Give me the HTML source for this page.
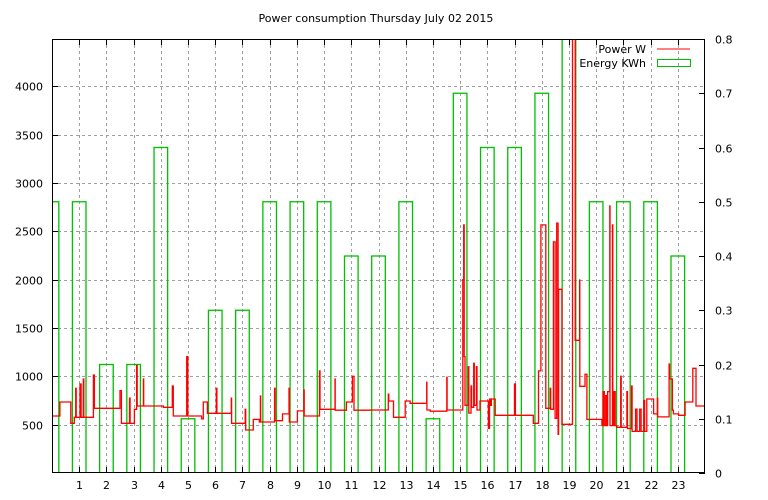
<!DOCTYPE html>
<html><head><meta charset="utf-8">
<style>
html,body{margin:0;padding:0;background:#fff;}
svg{display:block;font-family:"DejaVu Sans","Liberation Sans",sans-serif;}
</style></head>
<body>
<svg id="chart" width="768" height="500" viewBox="0 0 768 500" xmlns="http://www.w3.org/2000/svg">
<rect x="0" y="0" width="768" height="500" fill="#fff"/>
<text x="376" y="22" font-size="11" text-anchor="middle" fill="#000">Power consumption Thursday July 02 2015</text>
<g id="grid"></g>
<g id="plot" clip-path="url(#clip)"></g>
<defs><clipPath id="clip"><rect x="52" y="39" width="653" height="434"/></clipPath></defs>
<g id="axes"></g>
<g>
<text x="646" y="53" font-size="11" text-anchor="end">Power W</text>
<line x1="657" y1="49" x2="690" y2="49" stroke="#ff0000" stroke-width="1"/>
<text x="646" y="67" font-size="11" text-anchor="end">Energy KWh</text>
<rect x="657.5" y="59.5" width="33" height="7" fill="none" stroke="#00c000" stroke-width="1"/>
</g>
</svg>
<script>
const hourTicks=[1,2,3,4,5,6,7,8,9,10,11,12,13,14,15,16,17,18,19,20,21,22,23];
const wattTicks=[500,1000,1500,2000,2500,3000,3500,4000];
const kwhTicks=[0,0.1,0.2,0.3,0.4,0.5,0.6,0.7,0.8];
const energyHours=[0,1,2,3,4,5,6,7,8,9,10,11,12,13,14,15,16,17,18,19,20,21,22,23];
const energyKWh=[0.5,0.5,0.2,0.2,0.6,0.1,0.3,0.3,0.5,0.5,0.5,0.4,0.4,0.5,0.1,0.7,0.6,0.6,0.7,0.9,0.5,0.5,0.5,0.4];
const powerH=[0,0.29,0.69,0.82,0.87,0.89,1.03,1.07,1.15,1.17,1.52,1.56,2.5,2.55,2.85,2.87,3.03,3.11,3.13,3.36,3.37,4.09,4.42,4.46,4.95,4.99,5.5,5.56,5.71,6.04,6.06,6.59,6.6,7.1,7.12,7.4,7.62,7.66,7.67,8.18,8.2,8.47,8.71,8.72,9.02,9.26,9.27,9.83,9.85,10.4,10.41,10.82,11.04,11.1,11.69,12.36,12.38,12.55,12.98,13.16,13.77,13.78,13.9,14.51,14.52,15.1,15.13,15.15,15.18,15.3,15.32,15.4,15.42,15.5,15.52,15.6,15.62,15.73,16.04,16.08,16.1,16.15,16.29,17,17.03,17.69,17.88,17.97,18.15,18.31,18.33,18.43,18.49,18.55,18.6,18.62,18.74,19.13,19.23,19.39,19.4,19.59,19.66,20.21,20.25,20.3,20.35,20.38,20.42,20.5,20.51,20.6,20.61,20.65,20.7,20.76,20.9,20.92,21.13,21.15,21.3,21.32,21.45,21.5,21.6,21.65,21.75,21.78,21.86,22.11,22.25,22.26,22.68,22.7,22.8,22.84,23.03,23.27,23.55,23.67,24];
const powerW=[590,735,514,576,876,576,921,576,973,576,1014,669,852,514,775,514,659,1110,693,973,693,680,900,590,1204,590,560,735,618,876,618,775,514,659,445,555,528,797,528,876,541,611,876,528,642,859,590,1056,659,973,650,735,1000,650,652,815,745,576,745,721,938,652,639,990,652,2000,2567,1204,700,1100,620,900,680,1135,700,1100,652,745,462,766,700,766,597,921,597,514,1056,2567,669,876,659,2391,566,2584,400,1900,504,5000,1373,1997,897,1021,555,490,842,490,800,490,842,2763,490,2567,490,842,490,473,1000,473,842,460,900,430,660,430,660,430,750,430,766,611,775,580,1128,973,650,611,597,735,1083,693,693];

const X0=52,X1=705,Y0=473,Y1=39;
const xs=h=>X0+h*(X1-X0)/24;
const yW=w=>Y0-w*(Y0-Y1)/4490;
const yK=k=>Y0-k*(Y0-Y1)/0.8;
const NS="http://www.w3.org/2000/svg";
function mk(tag,attrs,parent){const e=document.createElementNS(NS,tag);for(const k in attrs)e.setAttribute(k,attrs[k]);parent.appendChild(e);return e;}
const grid=document.getElementById('grid'),plot=document.getElementById('plot'),axes=document.getElementById('axes');

hourTicks.forEach(h=>{
  const x=Math.round(xs(h))+0.5;
  const g=mk('line',{x1:x,y1:Y1,x2:x,y2:Y0,stroke:'#a0a0a0','stroke-dasharray':'3,3','stroke-width':1},grid);
  
  
  mk('line',{x1:x,y1:Y0,x2:x,y2:Y0-6,stroke:'#000'},axes);
  mk('line',{x1:x,y1:Y1,x2:x,y2:Y1+6,stroke:'#000'},axes);
  const t=mk('text',{x:x,y:489,'font-size':11,'text-anchor':'middle'},axes);
  t.textContent=h;
  
  
});
wattTicks.forEach(w=>{
  const y=Math.round(yW(w))+0.5;
  const g=mk('line',{x1:X0,y1:y,x2:X1,y2:y,stroke:'#a0a0a0','stroke-dasharray':'3,3','stroke-width':1},grid);
  
  
  mk('line',{x1:X0,y1:y,x2:X0+6,y2:y,stroke:'#000'},axes);
  const t=mk('text',{x:43,y:y+4,'font-size':11,'text-anchor':'end'},axes);
  t.textContent=w;
  
  
});
kwhTicks.forEach(k=>{
  const y=Math.round(yK(k))+0.5;
  mk('line',{x1:X1,y1:y,x2:X1-6,y2:y,stroke:'#000'},axes);
  const t=mk('text',{x:715,y:y+4,'font-size':11,'text-anchor':'start'},axes);
  t.textContent=k;
  
  
});
const frame=mk('rect',{x:X0+0.5,y:Y1+0.5,width:X1-X0-1,height:Y0-Y1-1,fill:'none',stroke:'#000','stroke-width':1},axes);



energyHours.forEach((h,i)=>{
  const xa=xs(h-0.25),xb=xs(h+0.25),yt=yK(energyKWh[i]);
  const r=mk('rect',{x:xa,y:yt,width:xb-xa,height:Y0-yt,fill:'none',stroke:'#00c000','stroke-width':1.3},plot);
  
  
});

let d='';
for(let i=0;i<powerH.length;i++){
  const x=xs(powerH[i]).toFixed(1),y=yW(powerW[i]).toFixed(1);
  if(i===0)d+='M'+x+' '+y;
  else d+=' H'+x+' V'+y;
}
const p=mk('path',{d:d,fill:'none',stroke:'#ff0000','stroke-width':1.3},plot);


</script>
</body></html>
